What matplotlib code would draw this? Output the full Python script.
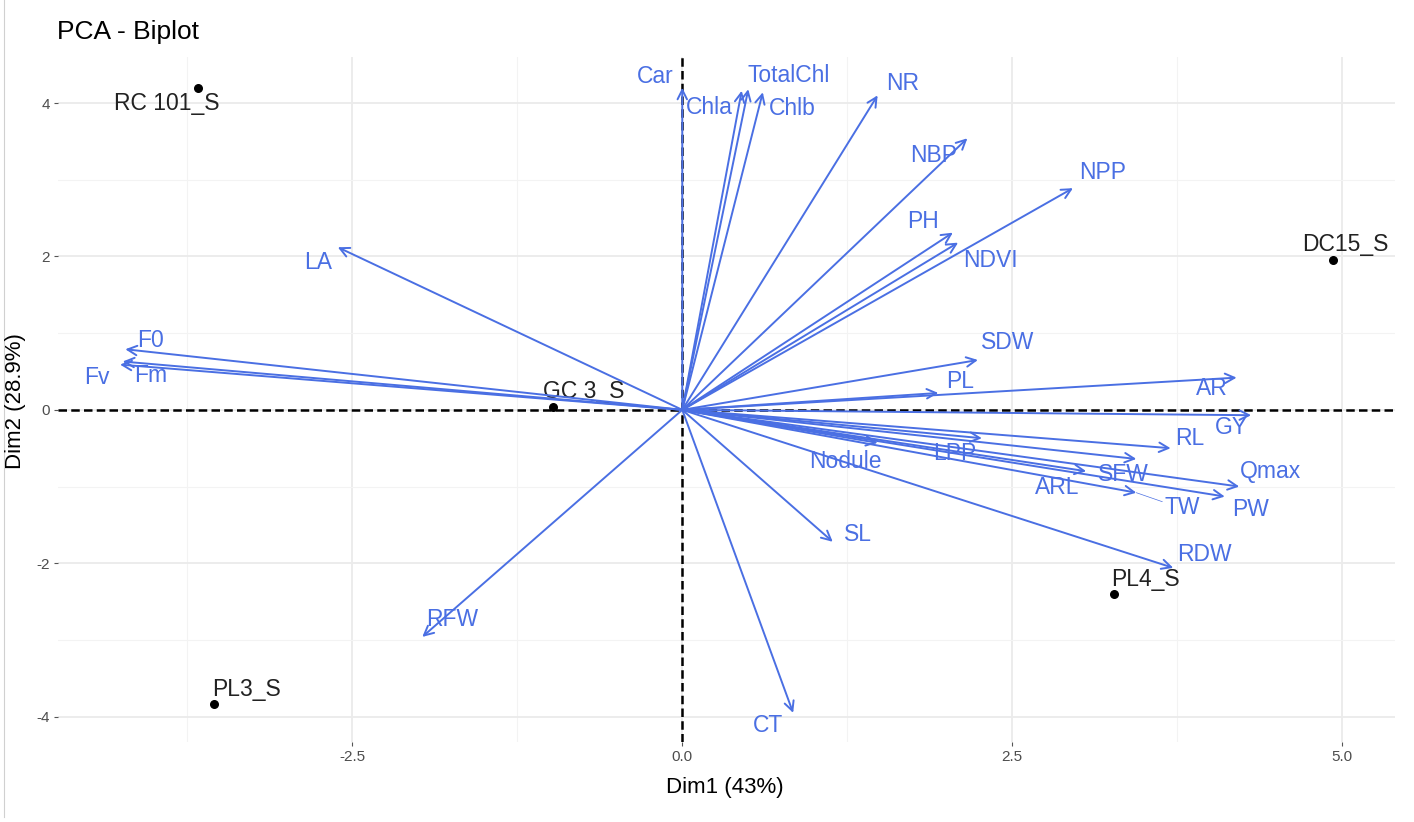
import matplotlib
matplotlib.use('Agg')
import matplotlib.pyplot as plt
from matplotlib.ticker import MultipleLocator, FuncFormatter
from matplotlib.lines import Line2D

plt.rcParams['font.family'] = ['Liberation Sans', 'DejaVu Sans']

# variable coordinates (arrows)
var_names = ['Car', 'Chla', 'TotalChl', 'Chlb', 'NR', 'NBP', 'NPP', 'PH', 'NDVI',
             'LA', 'F0', 'Fm', 'Fv', 'SDW', 'PL', 'AR', 'GY', 'RL', 'LPP', 'Nodule',
             'SFW', 'ARL', 'Qmax', 'PW', 'TW', 'SL', 'RDW', 'RFW', 'CT']
var_x = [0.00, 0.45, 0.50, 0.61, 1.48, 2.16, 2.96, 2.05, 2.09,
         -2.61, -4.22, -4.24, -4.26, 2.24, 1.94, 4.20, 4.31, 3.70, 2.27, 1.48,
         3.44, 3.06, 4.22, 4.11, 3.44, 1.14, 3.72, -1.97, 0.84]
var_y = [4.20, 4.16, 4.18, 4.14, 4.10, 3.54, 2.89, 2.31, 2.18,
         2.12, 0.79, 0.63, 0.59, 0.65, 0.22, 0.42, -0.07, -0.50, -0.37, -0.43,
         -0.64, -0.80, -1.00, -1.13, -1.08, -1.72, -2.06, -2.96, -3.95]

# individuals
ind_names = ['RC 101_S', 'DC15_S', 'GC 3_S', 'PL4_S', 'PL3_S']
ind_x = [-3.67, 4.93, -0.98, 3.27, -3.55]
ind_y = [4.20, 1.95, 0.04, -2.40, -3.83]

# label offsets in pixels (repelled label placement)
var_offsets = {
    'Car': (-27, 11), 'Chla': (-32, -17), 'TotalChl': (40, 14), 'Chlb': (30, -16),
    'NR': (25, 12), 'NBP': (-34, -17), 'NPP': (30, 16), 'PH': (-30, 11),
    'NDVI': (32, -18), 'LA': (-20, -15), 'F0': (25, 9), 'Fm': (28, -14),
    'Fv': (-23, -13), 'SDW': (30, 17), 'PL': (22, 11), 'AR': (-25, -11),
    'GY': (-20, -12), 'RL': (19, 10), 'LPP': (-27, -15), 'Nodule': (-32, -19),
    'SFW': (-13, -16), 'ARL': (-29, -16), 'Qmax': (31, 15), 'PW': (26, -13),
    'TW': (46, -15), 'SL': (25, 7), 'RDW': (31, 13), 'RFW': (30, 17), 'CT': (-25, -13),
}
ind_offsets = {
    'RC 101_S': (-31, -16), 'DC15_S': (12, 16), 'GC 3_S': (31, 15),
    'PL4_S': (32, 14), 'PL3_S': (33, 14),
}

blue = '#4A6FE3'

fig = plt.figure(figsize=(14.14, 8.22), dpi=100)
ax = fig.add_axes([58 / 1414, 80 / 822, (1395 - 58) / 1414, (742 - 57) / 822])

ax.set_xlim(-4.73, 5.40)
ax.set_ylim(-4.33, 4.60)
ax.xaxis.set_major_locator(MultipleLocator(2.5))
ax.xaxis.set_minor_locator(MultipleLocator(1.25))
ax.yaxis.set_major_locator(MultipleLocator(2))
ax.yaxis.set_minor_locator(MultipleLocator(1))
ax.grid(which='major', color='#EBEBEB', lw=1.3)
ax.grid(which='minor', color='#F3F3F3', lw=0.8)
ax.set_axisbelow(True)
for s in ax.spines.values():
    s.set_visible(False)
ax.tick_params(which='major', length=3, width=0.8, color='#555555',
               labelsize=11, labelcolor='#4D4D4D', pad=3)
ax.tick_params(which='minor', length=0)
ax.xaxis.set_major_formatter(FuncFormatter(lambda v, p: f'{v:.1f}'))
ax.yaxis.set_major_formatter(FuncFormatter(lambda v, p: f'{v:.0f}'))

ax.axhline(0, color='black', ls=(0, (3.4, 1.7)), lw=1.8, zorder=1)
ax.axvline(0, color='black', ls=(0, (3.4, 1.7)), lw=1.8, zorder=1)

ax.scatter(ind_x, ind_y, s=30, color='black', zorder=3)
for name, x, y in zip(ind_names, ind_x, ind_y):
    dx, dy = ind_offsets[name]
    ax.annotate(name, xy=(x, y), xytext=(dx, dy), textcoords='offset pixels',
                ha='center', va='center', color='#222222', fontsize=16.5)

for name, x, y in zip(var_names, var_x, var_y):
    ax.annotate('', xy=(x, y), xytext=(0, 0),
                arrowprops=dict(arrowstyle='->', color=blue, lw=1.4,
                                shrinkA=0, shrinkB=0, mutation_scale=17))
    dx, dy = var_offsets[name]
    ax.annotate(name, xy=(x, y), xytext=(dx, dy), textcoords='offset pixels',
                ha='center', va='center', color=blue, fontsize=16.5)

# thin repel segment for TW
ax.annotate('', xy=(var_x[24], var_y[24]), xytext=(26, -9), textcoords='offset pixels',
            arrowprops=dict(arrowstyle='-', color=blue, lw=0.5, shrinkA=0, shrinkB=0))

fig.text(725 / 1414, 1 - 787 / 822, 'Dim1 (43%)', fontsize=16, ha='center', va='center')
fig.text(16 / 1414, 1 - 401 / 822, 'Dim2 (28.9%)', fontsize=16, ha='center', va='center',
         rotation=90)
fig.text(57 / 1414, 1 - 32 / 822, 'PCA - Biplot', fontsize=19, va='center', ha='left')

# faint image border on the left
fig.add_artist(Line2D([4 / 1414, 4 / 1414], [5 / 822, 1], color='#D0D0D0', lw=0.8))

fig.savefig('out.png', dpi=100)
